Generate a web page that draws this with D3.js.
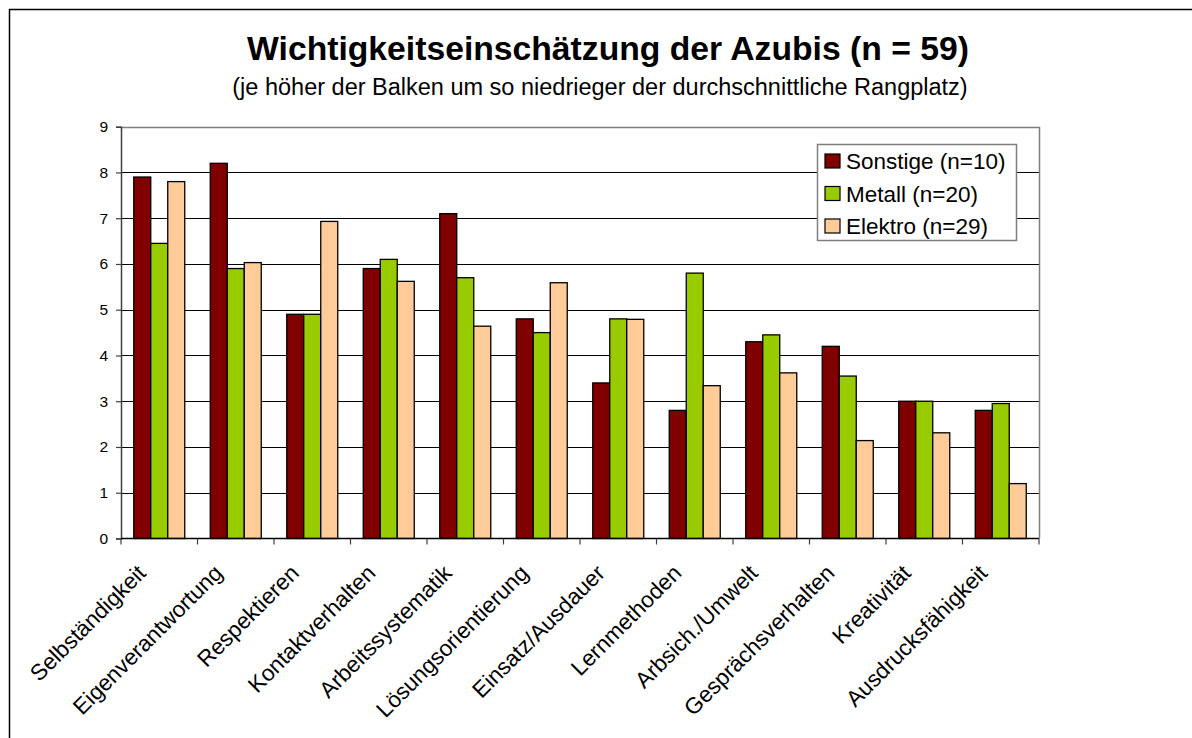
<!DOCTYPE html>
<html>
<head>
<meta charset="utf-8">
<script src="https://cdn.jsdelivr.net/npm/d3@7"></script>
<style>
  body { margin: 0; background: #fff; }
  svg { display: block; font-family: "Liberation Sans", Arial, sans-serif; }
</style>
</head>
<body>
<div id="graph"></div>
<script>
'use strict'

const categories = ['Selbständigkeit', 'Eigenverantwortung', 'Respektieren', 'Kontaktverhalten',
  'Arbeitssystematik', 'Lösungsorientierung', 'Einsatz/Ausdauer', 'Lernmethoden',
  'Arbsich./Umwelt', 'Gesprächsverhalten', 'Kreativität', 'Ausdrucksfähigkeit']
const seriesNames = ['Sonstige (n=10)', 'Metall (n=20)', 'Elektro (n=29)']
const sonstige = [7.9, 8.2, 4.9, 5.9, 7.1, 4.8, 3.4, 2.8, 4.3, 4.2, 3.0, 2.8]
const metall = [6.45, 5.9, 4.9, 6.1, 5.7, 4.5, 4.8, 5.8, 4.45, 3.55, 3.0, 2.95]
const elektro = [7.8, 6.03, 6.93, 5.62, 4.64, 5.59, 4.79, 3.34, 3.62, 2.14, 2.31, 1.2]
const yTicks = [0, 1, 2, 3, 4, 5, 6, 7, 8, 9]
const colors = ['#800000', '#99cc00', '#ffcc99']

const W = 1192, H = 738
const svg = d3.select('#graph').append('svg')
  .attr('width', W)
  .attr('height', H)

// outer chart frame (runs off the right and bottom edge)
svg.append('rect')
  .attr('x', 9.5).attr('y', 9.5)
  .attr('width', 1400).attr('height', 1000)
  .attr('fill', '#fff')
  .attr('stroke', '#000')
  .attr('stroke-width', 1.5)

svg.append('text')
  .attr('x', 608).attr('y', 60)
  .attr('text-anchor', 'middle')
  .style('font-size', '33.7px')
  .style('font-weight', 'bold')
  .text('Wichtigkeitseinschätzung der Azubis (n = 59)')

svg.append('text')
  .attr('x', 600).attr('y', 95)
  .attr('text-anchor', 'middle')
  .style('font-size', '23.5px')
  .text('(je höher der Balken um so niedrieger der durchschnittliche Rangplatz)')

let plot = { left: 121, right: 1039, top: 126.7, bottom: 538.5 }

let x = d3.scaleBand()
  .domain(categories)
  .range([plot.left, plot.right])
  .paddingInner(1 / 3)
  .paddingOuter(1 / 6)
let xs = d3.scaleBand()
  .domain(seriesNames)
  .range([0, x.bandwidth()])
let y = d3.scaleLinear()
  .domain([0, 9])
  .range([plot.bottom, plot.top])

// gridlines
svg.append('g')
  .selectAll('line')
  .data(yTicks.slice(1, -1))
  .join('line')
  .attr('x1', plot.left).attr('x2', plot.right)
  .attr('y1', d => Math.round(y(d)) + 0.5)
  .attr('y2', d => Math.round(y(d)) + 0.5)
  .attr('stroke', '#000')
  .attr('stroke-width', 1)

// plot area border (top / right)
svg.append('path')
  .attr('d', `M${plot.left},${Math.round(plot.top) + 0.5}H${plot.right + 0.5}V${plot.bottom}`)
  .attr('fill', 'none')
  .attr('stroke', '#808080')
  .attr('stroke-width', 1.5)

// bars
let data = [sonstige, metall, elektro]
let groups = svg.append('g')
  .selectAll('g')
  .data(categories)
  .join('g')
  .attr('transform', d => `translate(${x(d)},0)`)

groups.selectAll('rect')
  .data((c, i) => seriesNames.map((s, j) => ({ s, j, v: data[j][i] })))
  .join('rect')
  .attr('x', d => xs(d.s))
  .attr('y', d => y(d.v))
  .attr('width', xs.bandwidth())
  .attr('height', d => y(0) - y(d.v))
  .attr('fill', d => colors[d.j])
  .attr('stroke', '#000')
  .attr('stroke-width', 1.3)

// y axis
let yAxis = svg.append('g')
  .attr('transform', `translate(${plot.left},0)`)
  .call(d3.axisLeft(y).tickValues(yTicks).tickSize(5).tickPadding(8))
yAxis.select('.domain').attr('stroke', '#404040').attr('stroke-width', 1.5)
yAxis.selectAll('.tick line').attr('stroke', '#404040').attr('stroke-width', 1.2)
yAxis.selectAll('.tick text')
  .attr('fill', '#000')
  .style('font-size', '15.5px')
  .style('font-family', '"Liberation Sans", Arial, sans-serif')

// x axis with ticks at category boundaries
let xAxis = svg.append('g')
xAxis.append('line')
  .attr('x1', plot.left).attr('x2', plot.right)
  .attr('y1', y(0)).attr('y2', y(0))
  .attr('stroke', '#000')
  .attr('stroke-width', 1.5)
xAxis.selectAll('line.tick')
  .data(d3.range(categories.length + 1))
  .join('line')
  .attr('class', 'tick')
  .attr('x1', i => plot.left + i * x.step())
  .attr('x2', i => plot.left + i * x.step())
  .attr('y1', y(0)).attr('y2', y(0) + 6)
  .attr('stroke', '#404040')
  .attr('stroke-width', 1.2)

xAxis.selectAll('text')
  .data(categories)
  .join('text')
  .attr('transform', d => `translate(${x(d) + x.bandwidth() / 2 - 12},${y(0) + 36}) rotate(-45)`)
  .attr('text-anchor', 'end')
  .style('font-size', '22.5px')
  .text(d => d)

// legend
let legend = svg.append('g')
  .attr('class', 'legend')
legend.append('rect')
  .attr('x', 817.5).attr('y', 144.5)
  .attr('width', 199).attr('height', 96)
  .attr('fill', '#fff')
  .attr('stroke', '#808080')
  .attr('stroke-width', 1.5)
let items = legend.selectAll('g')
  .data(seriesNames)
  .join('g')
  .attr('transform', (d, i) => `translate(825,${161 + i * 32.5})`)
items.append('rect')
  .attr('x', 0).attr('y', -7)
  .attr('width', 15).attr('height', 14)
  .attr('fill', (d, i) => colors[i])
  .attr('stroke', '#000')
  .attr('stroke-width', 1.2)
items.append('text')
  .attr('x', 21).attr('y', 8)
  .style('font-size', '22.5px')
  .text(d => d)
</script>
</body>
</html>
